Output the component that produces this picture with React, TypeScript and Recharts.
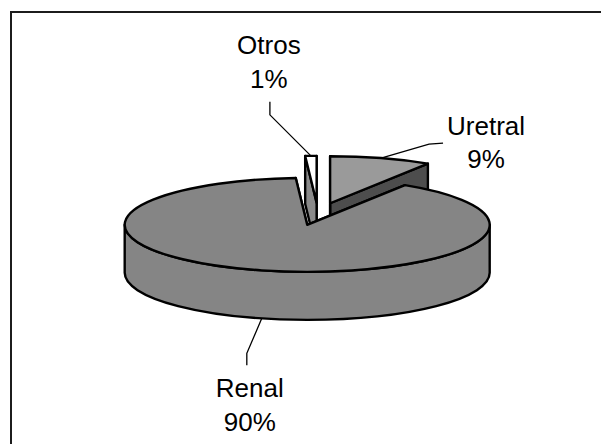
import React from 'react';
import { PieChart, Pie } from 'recharts';

// Data
const CATEGORIES = ['Uretral', 'Otros', 'Renal'];
const VALUES = [9, 1, 90];

// Greyscale fills: top face and side walls
const TOP_FILLS = ['#9a9a9a', '#ffffff', '#858585'];
const WALL_FILLS = ['#4d4d4d', '#8a8a8a', '#858585'];

// label placement relative to the slice rim: elbow, end of leader, text
const LABELS: Record<string, { elbow: number[]; end: number[]; text: number[] }> = {
  Otros: { elbow: [-41, -41], end: [0, -13], text: [-1, -48, -14] },
  Uretral: { elbow: [48, -14], end: [14, -1], text: [43, -8, 25] },
  Renal: { elbow: [-15, 35], end: [0, 12], text: [3, 32, 66] },
};

const W = 601;
const H = 444;
const CX = 318;
const CY = 214;
const RADIUS = 182.5;
const TILT = 0.2575; // ellipse ry / rx
const DEPTH = 48;
const EXPLODE = 0.238;
const FONT = '"Liberation Sans", Arial, sans-serif';

const total = VALUES.reduce((a, b) => a + b, 0);
// first slice ends at 12 o'clock
const START = 90 - (VALUES[0] / total) * 360;

const data = CATEGORIES.map((name, i) => ({ name, value: VALUES[i] }));

const RAD = Math.PI / 180;

function geom(cx: number, cy: number, r: number, mid: number) {
  const off = EXPLODE * r;
  const ox = cx + off * Math.cos(mid * RAD);
  const oy = cy - off * TILT * Math.sin(mid * RAD);
  const pt = (a: number) => [ox + r * Math.cos(a * RAD), oy - r * TILT * Math.sin(a * RAD)];
  return { ox, oy, pt };
}

const Slice3D = (props: any) => {
  const { cx, cy, outerRadius: r, startAngle, endAngle, midAngle } = props;
  const name = (props.payload && props.payload.name) || props.name;
  const idx = CATEGORIES.indexOf(name);
  const lo = Math.min(startAngle, endAngle);
  const hi = Math.max(startAngle, endAngle);
  const { ox, oy, pt } = geom(cx, cy, r, midAngle);
  const ry = r * TILT;
  const p1 = pt(lo);
  const p2 = pt(hi);
  const large = hi - lo > 180 ? 1 : 0;

  const wall = (p: number[]) =>
    `M${ox},${oy} L${p[0]},${p[1]} L${p[0]},${p[1] + DEPTH} L${ox},${oy + DEPTH} Z`;

  const fronts: number[][] = [];
  for (let k = -1; k <= 2; k++) {
    const a1 = Math.max(lo, 180 + 360 * k);
    const a2 = Math.min(hi, 360 + 360 * k);
    if (a2 > a1) fronts.push([a1, a2]);
  }

  const top = `M${ox},${oy} L${p1[0]},${p1[1]} A${r},${ry} 0 ${large} 0 ${p2[0]},${p2[1]} Z`;
  const line = { stroke: '#000', strokeWidth: 2.4, strokeLinejoin: 'round' as const };

  return (
    <g>
      <path d={wall(p1)} fill={WALL_FILLS[idx]} {...line} />
      <path d={wall(p2)} fill={WALL_FILLS[idx]} {...line} />
      {fronts.map(([a1, a2], i) => {
        const q1 = pt(a1);
        const q2 = pt(a2);
        const lg = a2 - a1 > 180 ? 1 : 0;
        const d = `M${q1[0]},${q1[1]} A${r},${ry} 0 ${lg} 0 ${q2[0]},${q2[1]} L${q2[0]},${q2[1] + DEPTH} A${r},${ry} 0 ${lg} 1 ${q1[0]},${q1[1] + DEPTH} Z`;
        return <path key={i} d={d} fill={WALL_FILLS[idx]} {...line} />;
      })}
      <path d={top} fill={TOP_FILLS[idx]} {...line} />
    </g>
  );
};

const renderLabel = (props: any) => {
  const { cx, cy, outerRadius: r, midAngle, name, value } = props;
  const cfg = LABELS[name];
  if (!cfg) return null;
  const { pt } = geom(cx, cy, r, midAngle);
  const a = pt(midAngle);
  if (Math.sin(midAngle * RAD) < 0) a[1] += DEPTH;
  const e = [a[0] + cfg.elbow[0], a[1] + cfg.elbow[1]];
  const f = [e[0] + cfg.end[0], e[1] + cfg.end[1]];
  const tx = f[0] + cfg.text[0];
  const pct = Math.round((value / total) * 100);
  return (
    <g>
      <polyline
        points={`${a[0]},${a[1]} ${e[0]},${e[1]} ${f[0]},${f[1]}`}
        fill="none"
        stroke="#000"
        strokeWidth={1.3}
      />
      <text x={tx} y={f[1] + cfg.text[1]} textAnchor="middle" fontSize={26} fontFamily={FONT} fill="#000">
        {name}
      </text>
      <text x={tx} y={f[1] + cfg.text[2]} textAnchor="middle" fontSize={26} fontFamily={FONT} fill="#000">
        {pct}%
      </text>
    </g>
  );
};

export default function App() {
  return (
    <div style={{ position: 'absolute', left: 0, top: 0, width: W, height: H, overflow: 'hidden', background: '#fff' }}>
      <div
        style={{
          position: 'absolute',
          left: 10,
          top: 11,
          right: 0,
          bottom: 0,
          borderLeft: '2px solid #1c1c1c',
          borderTop: '2px solid #1c1c1c',
        }}
      />
      <div style={{ position: 'absolute', left: 0, top: 0 }}>
        <PieChart width={W} height={H} margin={{ top: 0, right: 0, bottom: 0, left: 0 }}>
          <Pie
            data={data}
            dataKey="value"
            nameKey="name"
            cx={CX}
            cy={CY}
            outerRadius={RADIUS}
            startAngle={START}
            endAngle={START + 360}
            isAnimationActive={false}
            shape={Slice3D}
            activeShape={Slice3D}
            inactiveShape={Slice3D}
            label={renderLabel}
            labelLine={false}
            stroke="#000"
          />
        </PieChart>
      </div>
    </div>
  );
}
